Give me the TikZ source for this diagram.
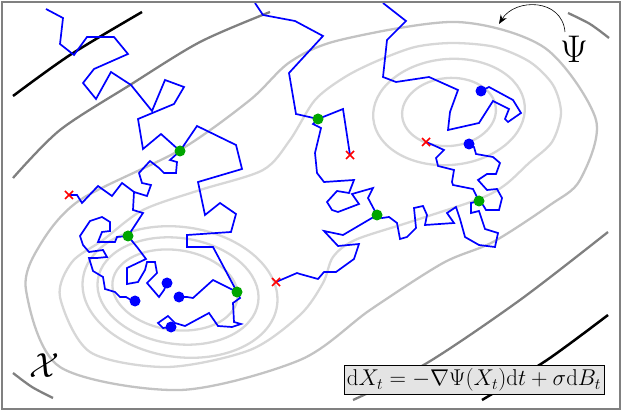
\documentclass[tikz,border=0pt]{standalone}
\usepackage{amsmath}
\usepackage{graphicx}
\usetikzlibrary{arrows.meta}
\definecolor{lgray}{RGB}{195,195,195}
\definecolor{llgray}{RGB}{215,215,215}
\definecolor{dgray}{RGB}{128,128,128}
\definecolor{gdot}{RGB}{0,165,0}
\definecolor{boxfill}{RGB}{228,228,228}
\tikzset{
  walk/.style={draw=blue, line width=1.7pt, line join=miter},
  outerc/.style={draw=lgray, line width=2.3pt},
  innerc/.style={draw=llgray, line width=2.3pt},
  darkc/.style={draw=dgray, line width=2.3pt},
  blackc/.style={draw=black, line width=2.5pt},
  bdot/.style={fill=blue},
  gdotst/.style={fill=gdot},
  startx/.style={draw=red, line width=1.5pt}
}
\newcommand{\crossat}[2]{\draw[startx] (#1-4,#2-4) -- (#1+4,#2+4) (#1-4,#2+4) -- (#1+4,#2-4);}
\begin{document}
\begin{tikzpicture}[x=1pt,y=-1pt]
\useasboundingbox (0,0) rectangle (623,411);
% open contours
\draw[blackc] plot[smooth] coordinates {(13,96) (70,55) (142,12)};
\draw[darkc] plot[smooth] coordinates {(13,178) (60,130) (130,85) (200,42) (270,12)};
\draw[blackc] plot[smooth] coordinates {(608,315) (547,360) (482,400)};
\draw[darkc] plot[smooth] coordinates {(608,232) (520,300) (427,363) (353,400)};
\draw[darkc] plot[smooth] coordinates {(568,13) (590,24) (609,38)};
\draw[darkc] plot[smooth] coordinates {(13,373) (32,387) (53,398)};
% peanut contours
\draw[outerc] plot[smooth cycle] coordinates {(26,290) (40,245) (80,200) (180,150) (250,100) (290,62) (340,40) (457,22) (545,48) (596,120) (580,180) (550,205) (493,242) (443,263) (370,310) (300,360) (180,390) (60,367)};
\draw[innerc] plot[smooth cycle] coordinates {(60,297) (72,262) (103,240) (143,210) (200,190) (263,170) (290,140) (315,100) (345,77) (377,61) (415,47) (453,43) (495,47) (530,62) (553,85) (561,113) (552,142) (529,163) (505,185) (479,199) (410,222) (355,240) (333,257) (323,283) (300,315) (250,350) (167,367) (90,352)};
% left well
\draw[innerc, rotate around={-8:(180,292)}] (180,292) ellipse [x radius=98, y radius=65];
\draw[innerc, rotate around={-8:(178,291)}] (178,291) ellipse [x radius=81, y radius=53];
\draw[innerc, rotate around={-8:(175,290)}] (175,290) ellipse [x radius=63, y radius=40];
% right well
\draw[innerc, rotate around={5:(449,112)}] (449,112) ellipse [x radius=76, y radius=53];
\draw[innerc, rotate around={5:(449,112)}] (449,112) ellipse [x radius=47, y radius=34];
% walks
\draw[walk] plot coordinates {(46,9) (63,18) (60,44) (74,55) (87,37) (114,37) (128,54) (94,69) (83,83) (96,99) (111,72) (131,85) (152,111) (165,80) (184,87) (174,104) (138,119) (143,149) (161,134) (180,151)};
\draw[walk] plot coordinates {(180,151) (197,126) (236,145) (242,169) (198,182) (205,215) (220,203) (236,214) (231,232) (187,235) (187,247) (213,247) (237,292)};
\draw[walk] plot coordinates {(237,292) (240,298) (233,303) (234,322) (241,324) (232,327) (218,326) (209,313) (185,326) (175,323) (168,316) (158,323) (163,328) (171,327)};
\draw[walk] plot coordinates {(237,292) (213,280) (193,298) (187,297) (179,297)};
\draw[walk] plot coordinates {(180,151) (170,160) (177,162) (176,173) (164,173) (159,168) (150,161) (139,173) (142,183) (151,185) (147,196) (134,192)};
\draw[walk] plot coordinates {(69,195) (77,195) (82,203) (98,186) (112,196) (122,183) (134,192) (133,210) (143,213) (128,236)};
\draw[walk] plot coordinates {(128,236) (117,237) (115,242) (98,242) (102,232) (110,231) (110,222) (102,217) (90,221) (80,236) (83,245) (89,252) (103,250) (107,257) (97,258) (89,258) (93,271) (103,277) (105,289) (115,292) (120,297) (126,297) (131,300) (135,301)};
\draw[walk] plot coordinates {(128,236) (137,247) (146,259) (127,268) (127,284) (138,282) (145,270) (147,262) (155,262) (157,273) (147,283) (159,297) (164,290) (167,283)};
\draw[walk] plot coordinates {(255,3) (263,15) (295,21) (323,36) (289,73) (296,114) (318,119) (343,109) (350,155)};
\draw[walk] plot coordinates {(318,119) (313,124) (321,128) (315,153) (317,173) (324,182) (354,180) (349,193) (337,191) (327,202) (332,210) (338,212) (359,204) (352,194) (373,188) (368,198) (377,215)};
\draw[walk] plot coordinates {(377,215) (343,235) (324,231) (338,246) (359,244) (354,259) (336,272) (324,272) (318,279) (300,274) (297,273) (276,282)};
\draw[walk] plot coordinates {(377,215) (382,218) (389,217) (397,223) (400,239) (407,237) (416,228) (414,208) (423,206) (427,215) (425,225) (454,223) (447,213) (456,207) (460,219) (465,237) (479,245) (495,247) (498,233) (485,229) (479,211) (471,213) (471,203) (479,201)};
\draw[walk] plot coordinates {(479,201) (483,205) (486,210) (499,210) (502,198) (497,189) (487,190) (478,180) (487,174) (496,174) (500,163) (493,157) (476,154) (474,147) (469,144)};
\draw[walk] plot coordinates {(479,201) (473,189) (453,185) (452,182) (454,170) (438,166) (436,158) (444,150) (433,145) (426,142)};
\draw[walk] plot coordinates {(383,3) (406,21) (387,40) (383,77) (396,82) (429,77) (458,90) (450,112) (448,130) (479,123) (493,101) (509,109) (505,119) (508,122) (521,113) (513,100) (489,87) (481,91)};
% dots
\foreach \p in {(481,91),(469,144),(167,283),(179,297),(135,301),(171,327)} \fill[bdot] \p circle (5.5);
\foreach \p in {(180,151),(128,236),(237,292),(318,119),(377,215),(479,201)} \fill[gdotst] \p circle (5.5);
\crossat{69}{195}
\crossat{276}{282}
\crossat{350}{155}
\crossat{426}{142}
% labels
\node[inner sep=0pt] (psi) at (574,49) {\scalebox{1.55}{\Huge$\Psi$}};
\draw[-{Stealth[length=9pt,width=7pt]}, line width=0.6pt] (565,32) .. controls (562,-2) and (515,-2) .. (499,24);
\node[inner sep=0pt] (xlab) at (44,366) {\scalebox{1.4}{\Huge$\mathcal{X}$}};
\node[draw=black, fill=boxfill, line width=0.8pt, inner sep=3pt] (eq) at (474,380) {\scalebox{1.1}{\huge$\mathrm{d}X_t = -\nabla\Psi(X_t)\mathrm{d}t + \sigma\mathrm{d}B_t$}};
% frame
\draw[draw=gray, line width=1.5pt] (2,2) rectangle (620,409);
\end{tikzpicture}
\end{document}
